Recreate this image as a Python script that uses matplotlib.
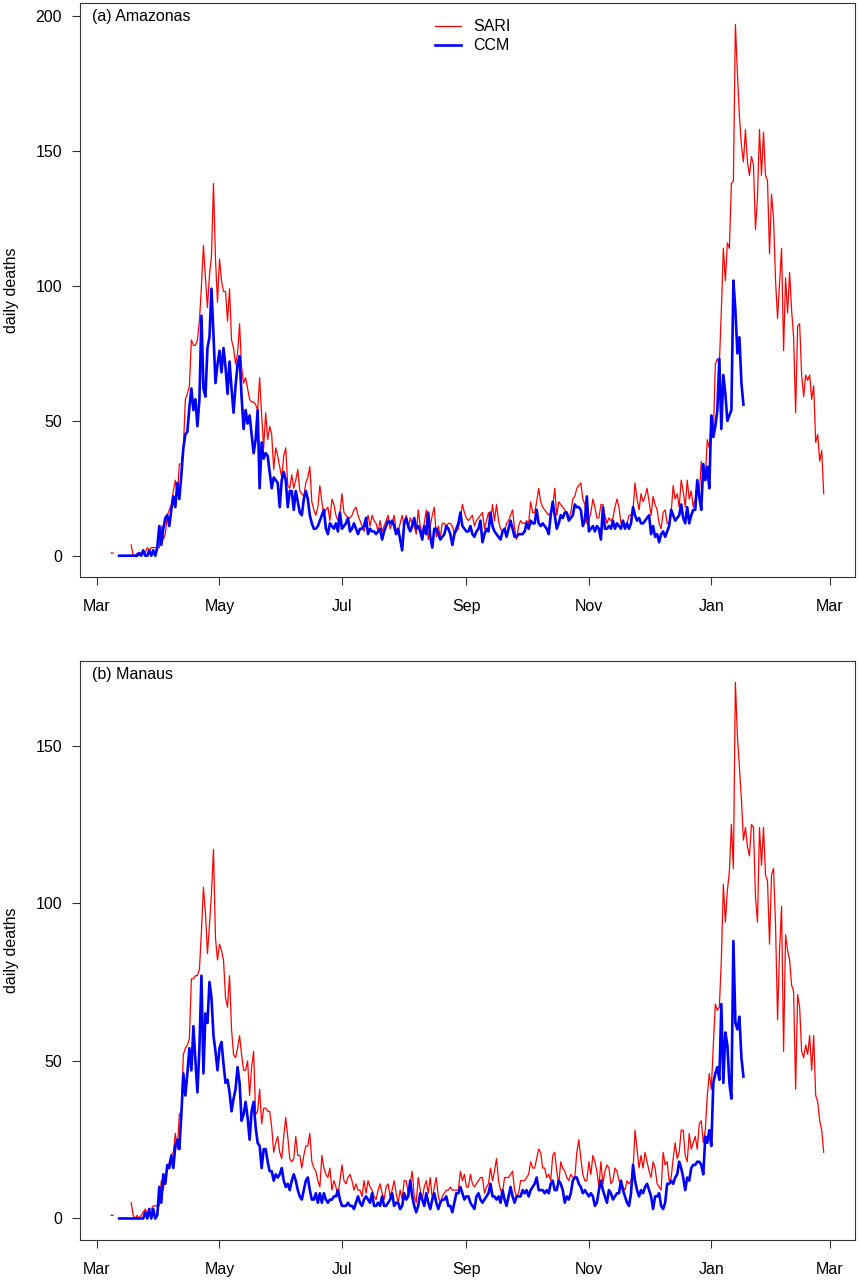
import numpy as np
import matplotlib
matplotlib.use("Agg")
import matplotlib.pyplot as plt
import matplotlib.dates as mdates

plt.rcParams['font.family'] = ['Liberation Sans', 'DejaVu Sans']

nan = np.nan

# daily deaths, SARI series start 2020-03-08, CCM series start 2020-03-12
sari_start = np.datetime64('2020-03-08')
ccm_start = np.datetime64('2020-03-12')

sari_amazonas = [
    1, 1, nan, nan, nan, nan, nan, nan, nan, nan,
    4, 0, 0, 1, 0, 1, 2, 1, 3, 2,
    3, 3, 3, 3, 3, 11, 6, 8, 15, 17,
    19, 24, 28, 22, 34, 34, 40, 58, 60, 63,
    80, 78, 78, 80, 87, 100, 115, 103, 92, 104,
    111, 138, 110, 94, 110, 102, 98, 98, 87, 99,
    80, 77, 71, 75, 86, 70, 64, 66, 62, 58,
    57, 57, 56, 54, 66, 52, 40, 53, 43, 48,
    45, 32, 40, 37, 33, 29, 37, 40, 26, 25,
    30, 25, 28, 32, 24, 23, 22, 27, 29, 33,
    20, 17, 15, 18, 26, 20, 15, 17, 18, 13,
    21, 19, 15, 13, 16, 23, 16, 15, 14, 14,
    15, 17, 18, 15, 13, 11, 9, 12, 15, 11,
    15, 13, 12, 9, 13, 9, 11, 13, 15, 10,
    12, 15, 9, 9, 12, 15, 11, 15, 10, 14,
    12, 11, 8, 17, 11, 8, 12, 17, 6, 11,
    15, 18, 7, 11, 7, 12, 12, 11, 12, 12,
    11, 8, 9, 10, 14, 19, 16, 14, 13, 14,
    15, 11, 13, 14, 15, 16, 10, 13, 16, 12,
    19, 13, 19, 13, 10, 9, 9, 12, 13, 15,
    17, 10, 6, 11, 13, 12, 12, 13, 12, 20,
    16, 16, 20, 25, 20, 18, 17, 16, 15, 16,
    18, 25, 15, 20, 19, 18, 17, 16, 14, 16,
    21, 22, 25, 26, 27, 21, 19, 12, 13, 16,
    21, 18, 14, 14, 19, 19, 15, 12, 14, 13,
    14, 18, 21, 18, 12, 13, 11, 12, 15, 15,
    17, 27, 21, 17, 23, 20, 22, 25, 20, 15,
    22, 19, 17, 12, 10, 16, 17, 12, 12, 16,
    26, 21, 23, 18, 28, 24, 18, 28, 21, 24,
    18, 21, 27, 23, 35, 28, 29, 43, 40, 49,
    44, 71, 73, 71, 91, 114, 102, 116, 114, 138,
    139, 197, 179, 163, 152, 146, 158, 146, 141, 148,
    145, 121, 133, 158, 141, 157, 141, 139, 112, 134,
    125, 102, 88, 101, 114, 76, 103, 90, 105, 91,
    81, 53, 85, 86, 67, 59, 67, 65, 67, 58,
    63, 42, 45, 35, 39, 23,
]

ccm_amazonas = [
    0, 0, 0, 0, 0, 0, 0, 0, 0, 0,
    1, 0, 2, 0, 0, 2, 0, 2, 0, 3,
    11, 4, 10, 14, 15, 11, 17, 22, 18, 27,
    21, 30, 40, 45, 46, 55, 62, 54, 58, 48,
    58, 89, 62, 59, 77, 81, 99, 82, 64, 71,
    76, 68, 77, 70, 60, 72, 62, 53, 63, 71,
    74, 59, 47, 54, 49, 52, 45, 38, 43, 54,
    25, 42, 36, 38, 37, 31, 25, 29, 28, 27,
    18, 28, 31, 28, 18, 24, 24, 17, 24, 20,
    16, 15, 21, 24, 21, 15, 12, 10, 10, 11,
    13, 15, 17, 10, 8, 12, 11, 10, 12, 9,
    16, 10, 11, 12, 14, 9, 10, 12, 10, 8,
    10, 10, 11, 14, 8, 10, 9, 9, 8, 9,
    10, 6, 9, 11, 13, 12, 13, 11, 8, 10,
    6, 2, 12, 14, 11, 9, 11, 14, 10, 11,
    9, 6, 11, 8, 16, 7, 3, 10, 10, 8,
    6, 7, 8, 11, 10, 8, 4, 8, 10, 12,
    16, 11, 10, 9, 9, 11, 8, 7, 9, 10,
    13, 5, 8, 10, 9, 16, 11, 9, 8, 7,
    6, 9, 10, 7, 10, 13, 10, 7, 7, 8,
    8, 8, 9, 12, 10, 13, 12, 12, 17, 12,
    11, 12, 11, 10, 8, 15, 20, 15, 10, 12,
    15, 14, 16, 16, 13, 14, 15, 19, 18, 18,
    17, 11, 13, 22, 9, 10, 11, 9, 11, 10,
    6, 18, 10, 10, 11, 10, 13, 10, 12, 11,
    10, 13, 10, 12, 10, 12, 18, 15, 13, 14,
    12, 12, 13, 14, 15, 8, 11, 7, 8, 5,
    8, 9, 7, 9, 11, 17, 15, 13, 14, 15,
    19, 14, 12, 18, 12, 15, 17, 17, 28, 22,
    17, 34, 28, 33, 25, 52, 44, 48, 54, 73,
    47, 67, 60, 50, 52, 54, 102, 91, 75, 81,
    64, 56,
]

sari_manaus = [
    1, 1, nan, nan, nan, nan, nan, nan, nan, nan,
    5, 1, 0, 1, 0, 1, 2, 3, 2, 1,
    3, 4, 4, 4, 4, 12, 9, 14, 15, 18,
    20, 21, 27, 22, 33, 34, 52, 54, 55, 57,
    76, 76, 77, 77, 79, 91, 105, 97, 84, 93,
    103, 117, 89, 82, 87, 85, 82, 70, 67, 77,
    60, 52, 51, 54, 58, 52, 47, 47, 50, 39,
    48, 53, 33, 34, 41, 30, 35, 35, 34, 34,
    29, 21, 24, 26, 21, 19, 26, 32, 26, 19,
    18, 19, 26, 20, 20, 16, 20, 23, 23, 27,
    18, 16, 15, 12, 10, 20, 16, 14, 13, 16,
    9, 12, 10, 7, 12, 17, 12, 11, 13, 14,
    12, 9, 11, 9, 9, 7, 12, 8, 12, 10,
    9, 7, 6, 9, 11, 8, 6, 10, 11, 7,
    9, 12, 8, 5, 9, 6, 12, 12, 8, 11,
    15, 7, 5, 13, 9, 6, 10, 12, 8, 13,
    6, 10, 13, 7, 5, 7, 8, 9, 9, 10,
    9, 9, 9, 9, 15, 12, 14, 10, 10, 14,
    11, 10, 11, 12, 13, 13, 8, 10, 11, 16,
    12, 15, 19, 12, 9, 8, 13, 13, 13, 14,
    15, 9, 7, 8, 12, 12, 12, 13, 14, 18,
    16, 16, 19, 22, 21, 16, 16, 13, 14, 12,
    20, 21, 15, 11, 18, 16, 15, 13, 12, 14,
    13, 13, 21, 25, 19, 14, 12, 12, 18, 14,
    20, 18, 15, 10, 18, 11, 15, 17, 16, 11,
    12, 16, 15, 12, 11, 10, 9, 12, 11, 12,
    15, 28, 22, 16, 20, 16, 21, 18, 15, 13,
    18, 16, 11, 10, 9, 21, 17, 18, 12, 13,
    19, 24, 19, 21, 28, 28, 20, 18, 27, 22,
    24, 26, 22, 30, 31, 24, 28, 39, 46, 41,
    55, 68, 66, 67, 82, 106, 94, 104, 110, 125,
    111, 170, 153, 143, 133, 120, 124, 118, 115, 125,
    124, 102, 94, 124, 112, 124, 109, 107, 87, 109,
    111, 93, 63, 85, 99, 53, 90, 85, 82, 74,
    72, 41, 71, 67, 53, 51, 55, 52, 58, 47,
    58, 39, 37, 31, 28, 21,
]

ccm_manaus = [
    0, 0, 0, 0, 0, 0, 0, 0, 0, 0,
    0, 0, 0, 2, 0, 3, 0, 3, 0, 1,
    10, 5, 14, 11, 17, 16, 20, 16, 23, 25,
    22, 33, 46, 39, 46, 54, 47, 61, 50, 40,
    54, 77, 46, 65, 62, 75, 70, 58, 53, 47,
    54, 56, 49, 43, 44, 40, 34, 38, 41, 48,
    43, 31, 33, 37, 32, 25, 34, 37, 29, 24,
    23, 16, 22, 22, 18, 15, 15, 12, 14, 13,
    14, 16, 12, 10, 11, 9, 12, 14, 12, 9,
    7, 6, 9, 12, 13, 9, 6, 6, 8, 5,
    8, 5, 8, 6, 5, 6, 6, 7, 7, 9,
    6, 4, 4, 4, 5, 4, 4, 3, 5, 7,
    5, 4, 6, 7, 6, 5, 8, 4, 4, 5,
    4, 7, 4, 4, 5, 6, 8, 4, 5, 5,
    3, 4, 8, 6, 7, 12, 7, 4, 2, 4,
    8, 6, 4, 8, 5, 3, 6, 8, 5, 3,
    5, 6, 6, 7, 4, 4, 2, 5, 8, 8,
    10, 8, 6, 7, 7, 5, 4, 3, 7, 8,
    6, 5, 6, 7, 8, 11, 7, 7, 6, 7,
    5, 9, 6, 4, 7, 10, 7, 5, 7, 7,
    7, 9, 8, 9, 7, 9, 10, 11, 13, 9,
    9, 9, 8, 9, 8, 11, 12, 9, 9, 12,
    11, 9, 5, 7, 6, 8, 12, 13, 13, 11,
    10, 8, 9, 8, 7, 8, 7, 4, 5, 9,
    12, 9, 7, 5, 9, 8, 6, 7, 8, 8,
    12, 9, 7, 5, 4, 8, 17, 12, 9, 7,
    9, 8, 10, 11, 9, 7, 3, 7, 7, 8,
    4, 3, 5, 11, 11, 12, 11, 13, 14, 18,
    16, 13, 9, 13, 12, 16, 17, 17, 18, 18,
    17, 14, 26, 24, 28, 23, 43, 46, 48, 44,
    68, 43, 59, 55, 43, 38, 88, 62, 60, 64,
    51, 45,
]

panel_titles = ['(a) Amazonas', '(b) Manaus']
y_ticks = [[0, 50, 100, 150, 200], [0, 50, 100, 150]]
y_limits = [(-7.9, 204.9), (-6.8, 176.8)]
x_limits = (np.datetime64('2020-02-21T12'), np.datetime64('2021-03-13T12'))


def day_axis(start, values):
    return start + np.arange(len(values)).astype('timedelta64[D]')


def draw_panel(ax, sari, ccm, title, yticks, ylim, legend=False):
    ax.plot(day_axis(sari_start, sari), sari, color='#ff0000', lw=0.9, label='SARI')
    ax.plot(day_axis(ccm_start, ccm), ccm, color='#0000ff', lw=1.9, label='CCM')
    ax.set_xlim(x_limits)
    ax.set_ylim(ylim)
    ax.set_yticks(yticks)
    ax.xaxis.set_major_locator(mdates.MonthLocator(bymonth=[1, 3, 5, 7, 9, 11]))
    ax.xaxis.set_major_formatter(mdates.DateFormatter('%b'))
    ax.tick_params(axis='both', direction='out', length=6, width=0.8,
                   labelsize=11.5, color='#333333')
    ax.tick_params(axis='x', pad=10)
    ax.tick_params(axis='y', pad=7)
    for s in ax.spines.values():
        s.set_linewidth(0.8)
        s.set_color('#333333')
    ax.set_ylabel('daily deaths', fontsize=11.5, labelpad=12)
    ax.text(0.015, 0.99, title, transform=ax.transAxes, ha='left', va='top', fontsize=11.5)
    if legend:
        ax.legend(loc='upper left', bbox_to_anchor=(0.44, 0.997), frameon=False,
                  fontsize=11.5, handlelength=1.6, handletextpad=0.8, labelspacing=0.25)


fig = plt.figure(figsize=(8.6, 12.8), dpi=100)
ax1 = fig.add_axes([0.093, 0.5492, 0.901, 0.4484])
ax2 = fig.add_axes([0.093, 0.0313, 0.901, 0.4523])

draw_panel(ax1, sari_amazonas, ccm_amazonas, panel_titles[0], y_ticks[0], y_limits[0], legend=True)
draw_panel(ax2, sari_manaus, ccm_manaus, panel_titles[1], y_ticks[1], y_limits[1])

fig.savefig('out.png', dpi=100)
